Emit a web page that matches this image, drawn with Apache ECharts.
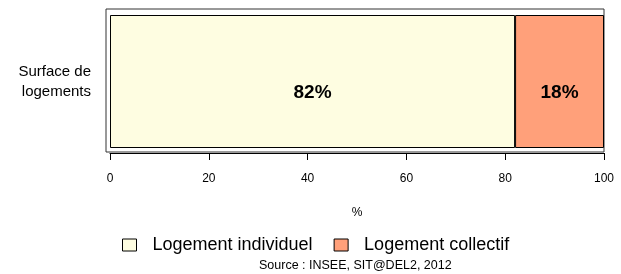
<!DOCTYPE html>
<html>
<head>
<meta charset="utf-8">
<script src="https://cdn.jsdelivr.net/npm/echarts@6/dist/echarts.min.js"></script>
<style>
  html, body { margin: 0; padding: 0; background: #fff; }
  #chart { width: 621px; height: 274px; }
</style>
</head>
<body>
<div id="chart"></div>
<script>
  // Données
  const categories = ['Surface de\nlogements'];
  const individuel = [82];
  const collectif = [18];
  const seriesNames = ['Logement individuel', 'Logement collectif'];
  const xTicks = [0, 20, 40, 60, 80, 100];

  const chart = echarts.init(document.getElementById('chart'));
  const font = 'Liberation Sans, Arial, sans-serif';

  // étiquettes en gras, un peu sous le centre de la barre
  const labelStyle = {
    show: true,
    position: 'inside',
    offset: [0, 11],
    formatter: '{c}%',
    fontFamily: font,
    fontWeight: 'bold',
    fontSize: 19,
    color: '#000'
  };

  chart.setOption({
    animation: false,
    textStyle: { fontFamily: font },
    title: {
      text: 'Source : INSEE, SIT@DEL2, 2012',
      left: 259,
      top: 259,
      padding: 0,
      textStyle: { fontSize: 12.5, fontWeight: 'normal', color: '#000', fontFamily: font }
    },
    // cadre autour de la zone de tracé
    graphic: [{
      type: 'rect',
      shape: { x: 106, y: 9, width: 498, height: 143 },
      style: { fill: 'none', stroke: '#333', lineWidth: 1 },
      z: 0
    }],
    legend: {
      data: seriesNames,
      left: 122,
      top: 236,
      padding: 0,
      icon: 'rect',
      itemWidth: 14,
      itemHeight: 12,
      itemGap: 21,
      itemStyle: { borderColor: '#000', borderWidth: 1 },
      textStyle: { fontSize: 18, color: '#000', fontFamily: font, padding: [0, 0, 0, 11] }
    },
    grid: { left: 110, right: 17, top: 15, bottom: 126, containLabel: false },
    xAxis: {
      type: 'value',
      min: xTicks[0],
      max: xTicks[xTicks.length - 1],
      interval: 20,
      offset: 5,
      name: '%',
      nameLocation: 'middle',
      nameGap: 54,
      nameTextStyle: { fontSize: 12, color: '#000', fontFamily: font },
      splitLine: { show: false },
      axisLine: { show: true, lineStyle: { color: '#000' } },
      axisTick: { show: true, length: 7, lineStyle: { color: '#000' } },
      axisLabel: { margin: 20, fontSize: 12, color: '#000', fontFamily: font }
    },
    yAxis: {
      type: 'category',
      data: categories,
      axisLine: { show: false },
      axisTick: { show: false },
      axisLabel: {
        margin: 19,
        align: 'right',
        fontSize: 15,
        lineHeight: 20,
        padding: [2, 0, 0, 0],
        color: '#000',
        fontFamily: font
      }
    },
    series: [
      {
        name: seriesNames[0],
        type: 'bar',
        stack: 'total',
        barCategoryGap: '0%',
        data: individuel,
        itemStyle: { color: '#FEFDE1', borderColor: '#000', borderWidth: 1 },
        label: labelStyle
      },
      {
        name: seriesNames[1],
        type: 'bar',
        stack: 'total',
        barCategoryGap: '0%',
        data: collectif,
        itemStyle: { color: '#FFA07A', borderColor: '#000', borderWidth: 1 },
        label: labelStyle
      }
    ]
  });
</script>
</body>
</html>
